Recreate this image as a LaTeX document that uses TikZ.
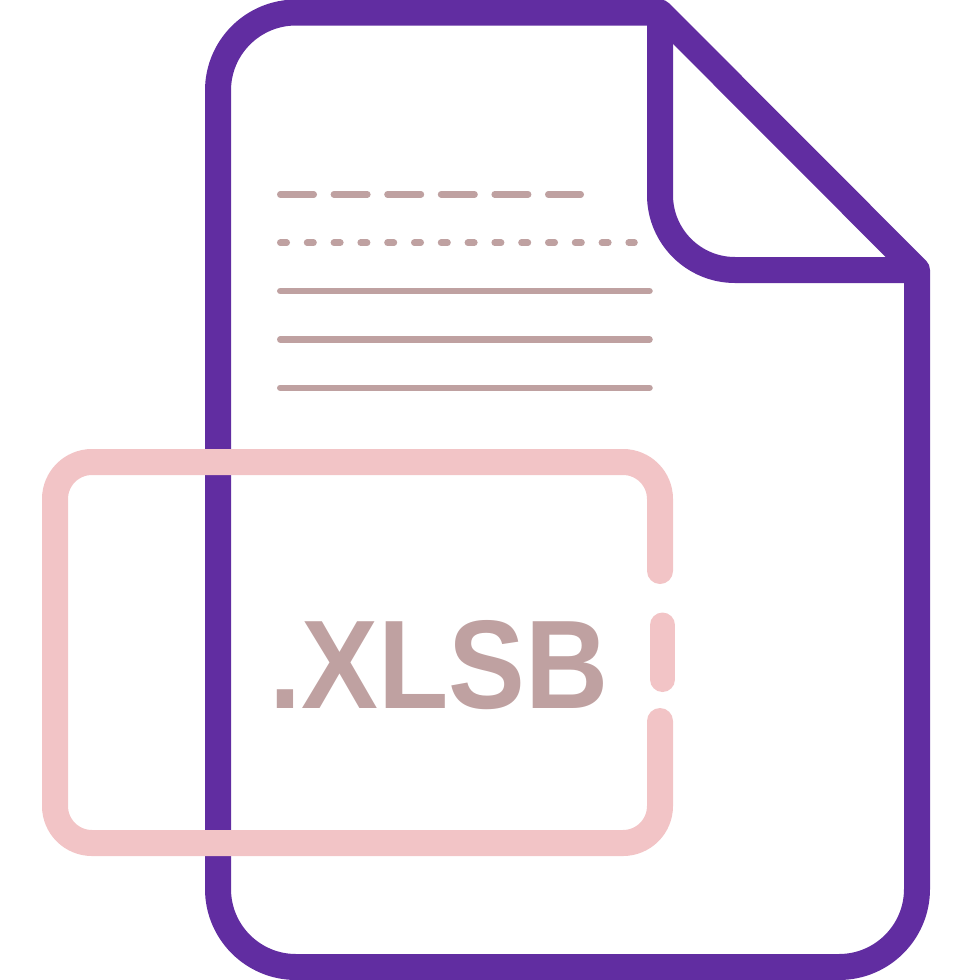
\documentclass[tikz,border=0pt]{standalone}
\usepackage{fontspec}
\newfontfamily\lab{Liberation Sans}
\definecolor{docp}{HTML}{612DA1}
\definecolor{tagp}{HTML}{F2C4C6}
\definecolor{inkp}{HTML}{BFA1A1}
\tikzset{
  docline/.style={draw=docp,line width=26pt,line join=round},
  tagline/.style={draw=tagp,line width=26pt,line cap=round},
  rule/.style={draw=inkp,line width=6.5pt,line cap=round},
  lbl/.style={inner sep=0pt,text=inkp,font=\lab\bfseries,anchor=base west}
}
\begin{document}
\begin{tikzpicture}[x=1pt,y=-1pt]
\useasboundingbox (0,0) rectangle (973,980);
% document outline
\draw[docline] (400,12.5) -- (660,12.5) -- (917,270)
  [rounded corners=78pt] -- (917,967) -- (218,967) -- (218,12.5) -- cycle;
% fold
\draw[docline] (660,12.5) [rounded corners=75pt] -- (660,270) [sharp corners] -- (917,270);
% text rules
\draw[rule,dash pattern=on 33.5pt off 20.1pt] (280.25,194.4) -- (580.75,194.4);
\draw[rule,dash pattern=on 6.5pt off 20.3pt] (280.25,242.7) -- (634.5,242.7);
\draw[rule] (280.25,291) -- (649.5,291);
\draw[rule] (280.25,339.4) -- (649.5,339.4);
\draw[rule] (280.25,387.8) -- (649.5,387.8);
% tag
\draw[tagline,rounded corners=37pt] (660,571) -- (660,462) -- (55,462) -- (55,843) -- (660,843) -- (660,721);
\draw[tagline,line width=25pt] (662.5,625) -- (662.5,679.5);
% label
\node[lbl] (label) at (269,708) {\resizebox{339pt}{88pt}{.XLSB}};
\end{tikzpicture}
\end{document}
